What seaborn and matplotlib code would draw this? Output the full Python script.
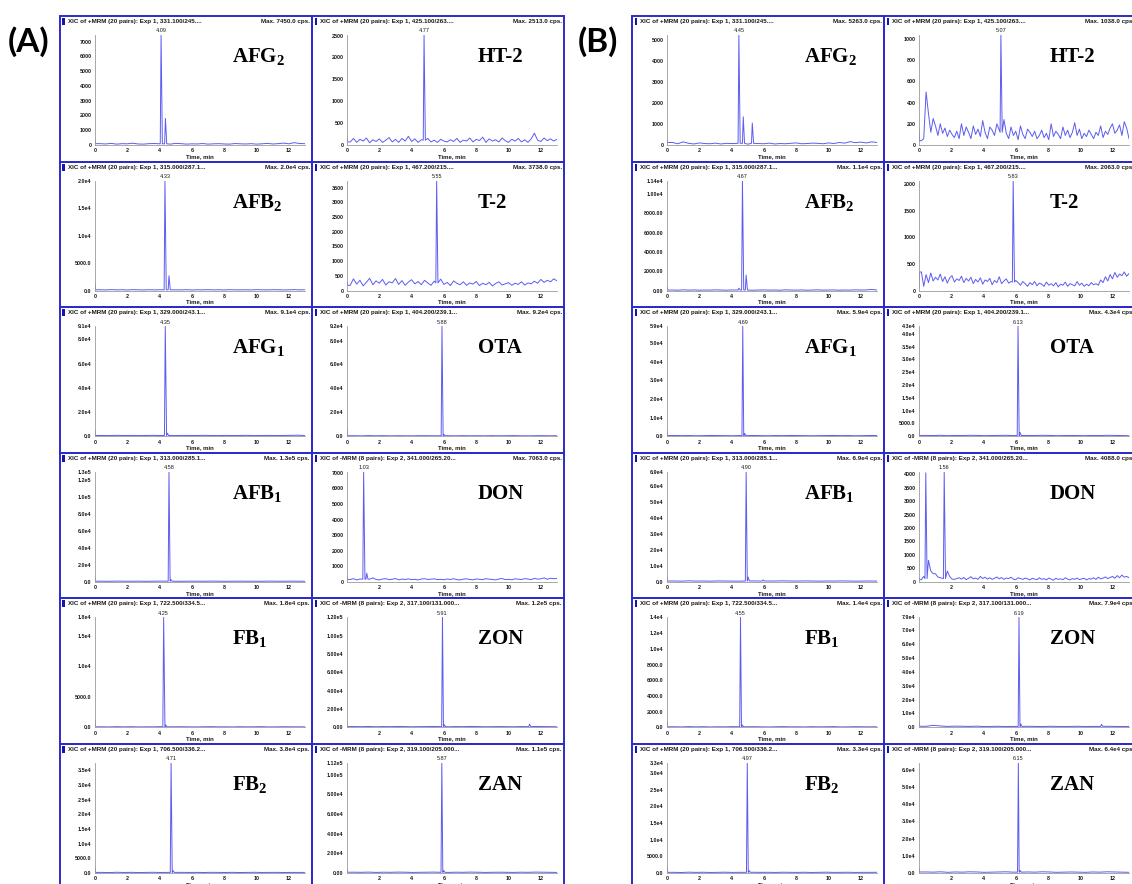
import numpy as np
import matplotlib
matplotlib.use("Agg")
import matplotlib.pyplot as plt
import seaborn as sns
from matplotlib.patches import Rectangle

# ---------------- data ----------------
labels_left = [r"AFG$_2$", r"AFB$_2$", r"AFG$_1$", r"AFB$_1$", r"FB$_1$", r"FB$_2$"]
labels_right = ["HT-2", "T-2", "OTA", "DON", "ZON", "ZAN"]

mz_left = ["331.100/245....", "315.000/287.1...", "329.000/243.1...",
           "313.000/285.1...", "722.500/334.5...", "706.500/336.2..."]
mz_right = ["425.100/263....", "467.200/215....", "404.200/239.1...",
            "341.000/265.20...", "317.100/131.000...", "319.100/205.000..."]
exp_left = [1, 1, 1, 1, 1, 1]
exp_right = [1, 1, 1, 2, 2, 2]

max_A_left = ["7450.0", "2.0e4", "9.1e4", "1.3e5", "1.8e4", "3.8e4"]
max_A_right = ["2513.0", "3738.0", "9.2e4", "7063.0", "1.2e5", "1.1e5"]
max_B_left = ["5263.0", "1.1e4", "5.9e4", "6.9e4", "1.4e4", "3.3e4"]
max_B_right = ["1038.0", "2063.0", "4.3e4", "4088.0", "7.9e4", "6.4e4"]

# (retention time, height); first entry is the labelled peak
peaks_A_left = [
    [(4.09, 7450), (4.36, 1800)],
    [(4.33, 20000), (4.58, 2700)],
    [(4.35, 91000), (4.48, 2500)],
    [(4.58, 130000), (4.70, 2500)],
    [(4.25, 18000), (4.38, 400)],
    [(4.71, 37500), (4.83, 800)],
]
peaks_A_right = [
    [(4.77, 2513)],
    [(5.55, 3738)],
    [(5.88, 92000), (6.00, 1500)],
    [(1.03, 7063), (1.22, 550)],
    [(5.91, 120000), (6.02, 3000), (11.30, 3500)],
    [(5.87, 112000), (5.98, 2500)],
]
peaks_B_left = [
    [(4.45, 5263), (4.72, 1350), (5.28, 1050)],
    [(4.67, 11400), (4.90, 1600), (4.45, 250)],
    [(4.69, 59000), (4.80, 1500)],
    [(4.90, 69000), (5.02, 3000), (5.95, 1200)],
    [(4.55, 14000), (4.66, 300)],
    [(4.97, 33000), (5.08, 700)],
]
peaks_B_right = [
    [(5.07, 1038)],
    [(5.83, 2063)],
    [(6.13, 43000), (6.25, 1500)],
    [(1.56, 4088), (0.42, 4050)],
    [(6.19, 79000), (6.30, 2500), (11.30, 2200)],
    [(6.15, 64000), (6.25, 1500)],
]

# baseline readings, evenly spread over 0-13 min (first value = start spike at 0 min)
base_A_left = [
    [380, 90, 70, 110, 60, 90, 80, 120, 70, 60, 90, 100, 80, 70, 60, 110, 90, 60, 80, 70,
     100, 60, 80, 90, 70, 60, 100, 80, 70, 90, 60, 80, 110, 70, 90, 130, 80, 160, 100, 90],
    [1200, 150, 120, 180, 130, 160, 110, 170, 140, 120, 160, 130, 150, 200, 170, 140, 130, 160, 120, 150,
     140, 170, 130, 150, 120, 160, 140, 130, 150, 120, 170, 140, 130, 160, 150, 120, 140, 170, 130, 150],
    [5000, 600, 500, 700, 550, 650, 500, 600, 700, 550, 600, 500, 650, 600, 550,
     700, 600, 500, 650, 550, 600, 700, 500, 600, 650, 550, 600, 700, 800, 600],
    [6000, 700, 600, 800, 700, 650, 750, 600, 700, 800, 650, 700, 600, 750, 700,
     650, 800, 700, 600, 700, 750, 650, 700, 600, 800, 700, 650, 750, 700, 650],
    [1200, 100, 80, 120, 90, 110, 80, 100, 90, 120, 80, 100, 110, 90, 80,
     100, 120, 90, 100, 80, 110, 90, 100, 120, 80, 90, 110, 100, 90, 100],
    [2000, 200, 150, 250, 180, 220, 160, 200, 240, 180, 200, 160, 220, 190, 210,
     170, 230, 200, 180, 220, 160, 200, 240, 180, 200, 220, 170, 200, 190, 210],
]
base_A_right = [
    [180, 70, 150, 60, 130, 90, 160, 50, 120, 80, 140, 60, 110, 170, 70, 130, 60, 150, 90, 200,
     80, 140, 60, 120, 100, 150, 70, 110, 60, 130, 90, 70, 120, 80, 150, 60, 110, 90, 160, 70,
     130, 100, 180, 60, 140, 90, 120, 70, 160, 100, 60, 130, 90, 150, 70, 120, 60, 140, 270, 110,
     80, 160, 100, 140, 90, 130],
    [300, 180, 400, 220, 350, 160, 280, 420, 200, 330, 250, 380, 190, 300, 260, 410, 210, 340, 180, 290,
     370, 230, 310, 200, 350, 260, 180, 320, 240, 390, 210, 280, 170, 330, 250, 200, 300, 180, 260, 220,
     310, 170, 250, 200, 280, 160, 240, 300, 190, 230, 270, 180, 250, 210, 300, 190, 260, 230, 320, 250,
     380, 280, 350, 300, 400, 330],
    [6000, 400, 300, 500, 350, 450, 300, 400, 350, 300, 450, 400, 350, 500, 400,
     300, 450, 350, 400, 300, 450, 350, 400, 500, 350, 300, 400, 450, 350, 400],
    [400, 150, 200, 120, 180, 220, 130, 170, 250, 150, 120, 180, 200, 140, 160, 210, 130, 170, 150, 190,
     140, 160, 120, 180, 200, 150, 170, 190, 140, 160, 130, 180, 150, 200, 140, 120, 170, 190, 150, 130,
     180, 160, 140, 200, 170, 150, 120, 180, 210, 140, 160, 130, 190, 170, 150, 200, 180, 140, 220, 170,
     190, 250, 160, 230, 200, 210],
    [3000, 900, 800, 1000, 700, 900, 800, 1000, 900, 700, 800, 900, 1000, 800, 700,
     900, 800, 1000, 900, 700, 800, 900, 800, 700, 900, 800, 1000, 900, 800, 700],
    [4000, 800, 700, 900, 600, 800, 700, 900, 800, 600, 700, 800, 900, 700, 600,
     800, 700, 900, 800, 600, 700, 800, 700, 600, 800, 700, 900, 800, 700, 600],
]
base_B_left = [
    [250, 120, 60, 150, 80, 50, 100, 70, 60, 90, 50, 80, 70, 100, 60, 40, 80, 70, 60, 90,
     50, 70, 60, 80, 100, 60, 70, 90, 80, 60, 100, 70, 120, 90, 160, 110, 140, 100, 150, 120],
    [500, 60, 40, 80, 50, 70, 40, 60, 50, 80, 60, 40, 70, 50, 60, 80, 40, 60, 70, 50,
     60, 40, 80, 60, 50, 70, 40, 60, 80, 50, 60, 70, 40, 60, 50, 80, 60, 70, 120, 60],
    [3000, 400, 300, 350, 250, 300, 400, 350, 300, 250, 350, 300, 400, 300, 250,
     350, 300, 400, 350, 300, 250, 300, 350, 400, 300, 350, 250, 300, 400, 350],
    [3500, 500, 400, 600, 450, 500, 400, 550, 500, 450, 400, 500, 550, 450, 500,
     500, 600, 500, 450, 550, 500, 400, 500, 450, 550, 500, 400, 450, 500, 450],
    [800, 80, 60, 100, 70, 90, 60, 80, 70, 100, 60, 80, 90, 70, 60,
     80, 100, 70, 80, 60, 90, 70, 80, 100, 60, 70, 90, 80, 70, 80],
    [2000, 200, 150, 250, 180, 220, 160, 200, 240, 180, 200, 160, 220, 190, 210,
     170, 230, 200, 180, 220, 160, 200, 240, 180, 200, 220, 170, 200, 190, 210],
]
base_B_right = [
    [150, 40, 60, 500, 300, 120, 250, 180, 90, 200, 110, 160, 80, 140, 100, 70, 130, 60, 200, 90,
     170, 120, 60, 180, 100, 150, 80, 230, 120, 60, 170, 140, 90, 200, 70, 150, 240, 110, 60, 170,
     90, 130, 50, 180, 100, 60, 150, 120, 80, 130, 60, 90, 140, 70, 110, 50, 200, 80, 130, 100,
     60, 170, 90, 140, 70, 120, 210, 90, 150, 60, 110, 80, 140, 100, 60, 120, 90, 180, 70, 130,
     100, 160, 200, 110, 140, 190, 90, 220, 160, 60],
    [50, 350, 80, 300, 150, 330, 180, 250, 200, 310, 170, 260, 140, 240, 280, 160, 220, 190, 270, 150,
     230, 180, 250, 130, 210, 160, 240, 120, 200, 170, 230, 110, 190, 150, 260, 130, 180, 220, 140, 170,
     120, 190, 150, 100, 170, 130, 80, 150, 110, 170, 90, 140, 120, 80, 160, 100, 130, 90, 150, 70,
     120, 100, 160, 80, 130, 110, 90, 170, 100, 140, 80, 120, 90, 150, 110, 130, 100, 200, 150, 260,
     180, 300, 220, 340, 250, 310, 280, 350, 270, 320],
    [3000, 300, 250, 350, 200, 300, 250, 350, 300, 200, 250, 300, 350, 250, 200,
     300, 250, 350, 300, 200, 250, 300, 250, 200, 300, 250, 350, 300, 250, 200],
    [150, 80, 200, 100, 800, 400, 300, 300, 180, 150, 120, 100, 400, 200, 100, 90, 120, 150, 100, 160,
     80, 130, 190, 110, 140, 90, 200, 120, 170, 100, 150, 90, 130, 180, 110, 160, 90, 140, 120, 170,
     100, 80, 150, 120, 90, 140, 110, 70, 130, 100, 80, 150, 90, 120, 70, 140, 100, 60, 130, 90,
     110, 80, 150, 100, 70, 120, 90, 140, 80, 110, 130, 70, 120, 100, 150, 90, 170, 110, 140, 180,
     120, 160, 200, 130, 230, 150, 250, 170, 200, 150],
    [4000, 800, 1500, 1000, 700, 900, 800, 700, 900, 600, 700, 800, 600, 700, 600,
     800, 700, 600, 800, 700, 600, 700, 800, 600, 700, 600, 800, 700, 600, 700],
    [3000, 600, 500, 700, 400, 600, 500, 700, 600, 400, 500, 600, 700, 500, 400,
     600, 500, 700, 600, 400, 500, 600, 500, 400, 600, 500, 700, 600, 500, 400],
]

yticks_A_left = [list(range(0, 7001, 1000)), [0, 5000, 10000, 15000, 20000],
                 [0, 20000, 40000, 60000, 80000, 91000],
                 [0, 20000, 40000, 60000, 80000, 100000, 120000, 130000],
                 [0, 5000, 10000, 15000, 18000], list(range(0, 35001, 5000))]
ydec_A_left = [0, 1, 1, 1, 1, 1]
yticks_A_right = [list(range(0, 2501, 500)), list(range(0, 3501, 500)),
                  [0, 20000, 40000, 60000, 80000, 92000], list(range(0, 7001, 1000)),
                  list(range(0, 120001, 20000)), [0, 20000, 40000, 60000, 80000, 100000, 112000]]
ydec_A_right = [0, 0, 1, 0, 2, 2]
yticks_B_left = [list(range(0, 5001, 1000)), [0, 2000, 4000, 6000, 8000, 10000, 11400],
                 list(range(0, 50001, 10000)) + [59000], list(range(0, 60001, 10000)) + [69000],
                 list(range(0, 14001, 2000)), list(range(0, 30001, 5000)) + [33000]]
ydec_B_left = [0, 2, 1, 1, 1, 1]
yticks_B_right = [list(range(0, 1001, 200)), list(range(0, 2001, 500)),
                  list(range(0, 40001, 5000)) + [43000], list(range(0, 4001, 500)),
                  list(range(0, 70001, 10000)) + [79000], list(range(0, 60001, 10000))]
ydec_B_right = [0, 0, 1, 0, 1, 1]

# ---------------- style ----------------
sns.set_style("white")
plt.rcParams["font.family"] = ["Liberation Sans", "DejaVu Sans"]
plt.rcParams["text.color"] = "#1a1a1a"
plt.rcParams["mathtext.fontset"] = "custom"
plt.rcParams["mathtext.rm"] = "Liberation Serif:bold"
plt.rcParams["mathtext.bf"] = "Liberation Serif:bold"
plt.rcParams["mathtext.default"] = "rm"

TRACE = "#5c5cf0"
BORDER = "#2c2cc8"
BAR = "#1414b4"
SPINE = "#9a9a9a"
W, H = 1132, 884
ROW0, ROWSTEP = 16, 145.6

fig = plt.figure(figsize=(W / 100, H / 100), dpi=100)


def fx(x):
    return x / W


def fy(y):
    return 1 - y / H


def sciex_label(v, d):
    if d == 0:
        return str(int(v))
    if v < 10000:
        return f"{v:.{d}f}"
    e = int(np.floor(np.log10(v)))
    return f"{v / 10 ** e:.{d}f}e{e}"


def build_trace(base, peaks):
    base = np.asarray(base, float)
    t = np.linspace(0, 13, len(base))
    keep = np.ones(len(t), bool)
    for rt, h in peaks:
        keep &= np.abs(t - rt) > 0.12
    lvl = np.median(base[1:])
    tt = list(t[keep])
    vv = list(base[keep])
    # the start spike only lasts one scan
    tt.append(0.04)
    vv.append(base[1])
    for rt, h in peaks:
        tt += [rt - 0.05, rt, rt + 0.08]
        vv += [lvl, h, lvl]
    order = np.argsort(tt)
    return np.array(tt)[order], np.array(vv)[order]


def draw_panel(pl, rt, label, exp, mz, mx, peaks, base, yticks, ydec, right_col):
    # panel frame and header
    fig.add_artist(Rectangle((fx(pl), fy(rt + ROWSTEP)), 252 / W, ROWSTEP / H,
                             transform=fig.transFigure, fill=False, ec=BORDER, lw=1.4))
    fig.add_artist(Rectangle((fx(pl + 2.5), fy(rt + 9)), 2.5 / W, 7 / H,
                             transform=fig.transFigure, color=BAR, lw=0))
    sign = "+" if exp == 1 else "-"
    pairs = 20 if exp == 1 else 8
    fig.text(fx(pl + 8), fy(rt + 5.5), f"XIC of {sign}MRM ({pairs} pairs): Exp {exp}, {mz}",
             fontsize=4.5, fontweight="bold", va="center", ha="left")
    fig.text(fx(pl + 250), fy(rt + 5.5), f"Max. {mx} cps.",
             fontsize=4.5, fontweight="bold", va="center", ha="right")

    ax = fig.add_axes([fx(pl + 35), fy(rt + 129), 210 / W, 110 / H])
    t, v = build_trace(base, peaks)
    sns.lineplot(x=t, y=v, ax=ax, color=TRACE, linewidth=0.7, estimator=None)
    ymax = peaks[0][1]
    ax.set_xlim(0, 13)
    ax.set_ylim(0, ymax)
    xt = [0, 2, 4, 6, 8, 10, 12] if exp == 1 else [2, 4, 6, 8, 10, 12]
    ax.set_xticks(xt)
    ax.set_xticklabels([str(x) for x in xt])
    ax.set_yticks(yticks)
    ax.set_yticklabels([sciex_label(y, ydec) for y in yticks])
    for s in ["top", "right"]:
        ax.spines[s].set_visible(False)
    for s in ["left", "bottom"]:
        ax.spines[s].set_color(SPINE)
        ax.spines[s].set_linewidth(0.6)
    ax.tick_params(axis="both", length=1.5, width=0.5, color=SPINE, pad=1,
                   labelsize=3.9, labelcolor="#1a1a1a")
    for lab in ax.get_xticklabels() + ax.get_yticklabels():
        lab.set_fontweight("bold")
    ax.set_xlabel("Time, min", fontsize=4.3, fontweight="bold", labelpad=0.3, color="#1a1a1a")
    ax.set_ylabel("")
    ax.annotate(f"{peaks[0][0]:.2f}", xy=(peaks[0][0], ymax), xytext=(0, 1.2),
                textcoords="offset points", ha="center", va="bottom",
                fontsize=4.0, color="#1a1a1a", annotation_clip=False)
    # compound name
    off = 166 if right_col else 172
    fig.text(fx(pl + off), fy(rt + 46), label, fontsize=15, fontweight="bold",
             family="Liberation Serif", color="black", ha="left", va="baseline")


groups = [
    (60, 312, max_A_left, max_A_right, peaks_A_left, peaks_A_right, base_A_left, base_A_right,
     yticks_A_left, yticks_A_right, ydec_A_left, ydec_A_right),
    (632, 884, max_B_left, max_B_right, peaks_B_left, peaks_B_right, base_B_left, base_B_right,
     yticks_B_left, yticks_B_right, ydec_B_left, ydec_B_right),
]

for (xl, xr, mxl, mxr, pkl, pkr, bsl, bsr, ytl, ytr, ydl, ydr) in groups:
    for r in range(6):
        rt = ROW0 + ROWSTEP * r
        draw_panel(xl, rt, labels_left[r], exp_left[r], mz_left[r], mxl[r],
                   pkl[r], bsl[r], ytl[r], ydl[r], False)
        draw_panel(xr, rt, labels_right[r], exp_right[r], mz_right[r], mxr[r],
                   pkr[r], bsr[r], ytr[r], ydr[r], True)

fig.text(fx(8), fy(42), "(A)", fontsize=24, fontweight="bold", family="Lato",
         color="black", ha="left", va="center")
fig.text(fx(578), fy(42), "(B)", fontsize=24, fontweight="bold", family="Lato",
         color="black", ha="left", va="center")

fig.savefig("out.png", dpi=100)
